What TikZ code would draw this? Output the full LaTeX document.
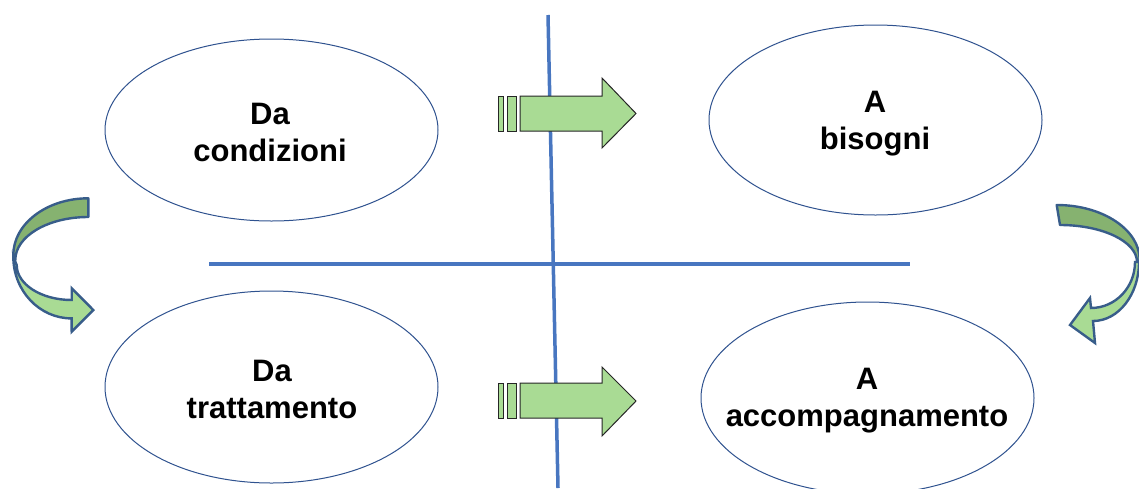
\documentclass[tikz,border=0pt]{standalone}
\usepackage{fontspec}
\setmainfont{Liberation Sans}
\usetikzlibrary{shapes.geometric}
\definecolor{axisblue}{RGB}{72,118,192}
\definecolor{ellblue}{RGB}{47,82,143}
\definecolor{lightgreen}{RGB}{169,219,148}
\definecolor{darkgreen}{RGB}{134,178,112}
\definecolor{curveedge}{RGB}{56,93,138}
\tikzset{
  bubble/.style={draw=ellblue, line width=1pt, fill=white, ellipse, inner sep=0pt, minimum width=333pt},
  lbl/.style={font=\bfseries\fontsize{31}{37}\selectfont, align=center, inner sep=0pt},
  axis/.style={draw=axisblue, line width=3.5pt},
  flatarrow/.style={draw=black!85, line width=1pt, fill=lightgreen, line join=miter},
  backband/.style={draw=curveedge, line width=2.4pt, fill=darkgreen, line join=round},
  frontband/.style={draw=curveedge, line width=2.4pt, fill=lightgreen, line join=miter}
}
\begin{document}
\begin{tikzpicture}[x=1pt, y=1pt, yscale=-1]
\useasboundingbox (0,0) rectangle (1139,488);
% axes
\coordinate (vtop) at (548,15);
\coordinate (vbot) at (558,488);
\coordinate (hl) at (209,264);
\coordinate (hr) at (910,264);
\draw[axis] (vtop) -- (vbot);
\draw[axis] (hl) -- (hr);
% ellipses
\node[bubble, minimum height=182pt] (e1) at (271.5,130) {};
\node[bubble, minimum height=190pt] (e2) at (875.5,120) {};
\node[bubble, minimum height=192pt] (e3) at (271.5,387) {};
\node[bubble, minimum height=192pt] (e4) at (867.5,398) {};
\node[lbl] (t1) at (270,132) {Da\\condizioni};
\node[lbl] (t2) at (875,124) {A\\bisogni};
\node[lbl] (t3) at (272,389) {Da\\trattamento};
\node[lbl] (t4) at (867,401) {A\\accompagnamento};
% striped arrows
\path[flatarrow] (498,96) rectangle (503,131);
\path[flatarrow] (507,96) rectangle (516,131);
\path[flatarrow] (520,96) -- (602,96) -- (602,78) -- (636,113.5) -- (602,148) -- (602,131) -- (520,131) -- cycle;
\path[flatarrow] (498,383) rectangle (503,418);
\path[flatarrow] (507,383) rectangle (516,418);
\path[flatarrow] (520,383) -- (602,383) -- (602,367) -- (636,401) -- (602,436) -- (602,418) -- (520,418) -- cycle;
% left curved arrow
\path[backband] (88.3,198.3) arc[start angle=270, end angle=180, x radius=75, y radius=56.7]
  -- (15.3,260) arc[start angle=180, end angle=270, x radius=73, y radius=43] -- cycle;
\path[frontband] (13.3,256.7) arc[start angle=180, end angle=90, x radius=58.3, y radius=61.7]
  -- (71.7,331.7) -- (93.3,310) -- (71.7,288.3) -- (71.7,300)
  arc[start angle=90, end angle=180, x radius=55, y radius=35] -- cycle;
% right curved arrow
\path[backband] (1056.7,205) arc[start angle=270, end angle=360, x radius=83, y radius=55]
  -- (1137,262) arc[start angle=0, end angle=-90, x radius=77, y radius=37] -- cycle;
\path[frontband] (1139,262) arc[start angle=0, end angle=90, x radius=46, y radius=59]
  -- (1095,343) -- (1070,325) -- (1090,298) -- (1091,308)
  arc[start angle=90, end angle=0, x radius=44, y radius=46] -- cycle;
\end{tikzpicture}
\end{document}
